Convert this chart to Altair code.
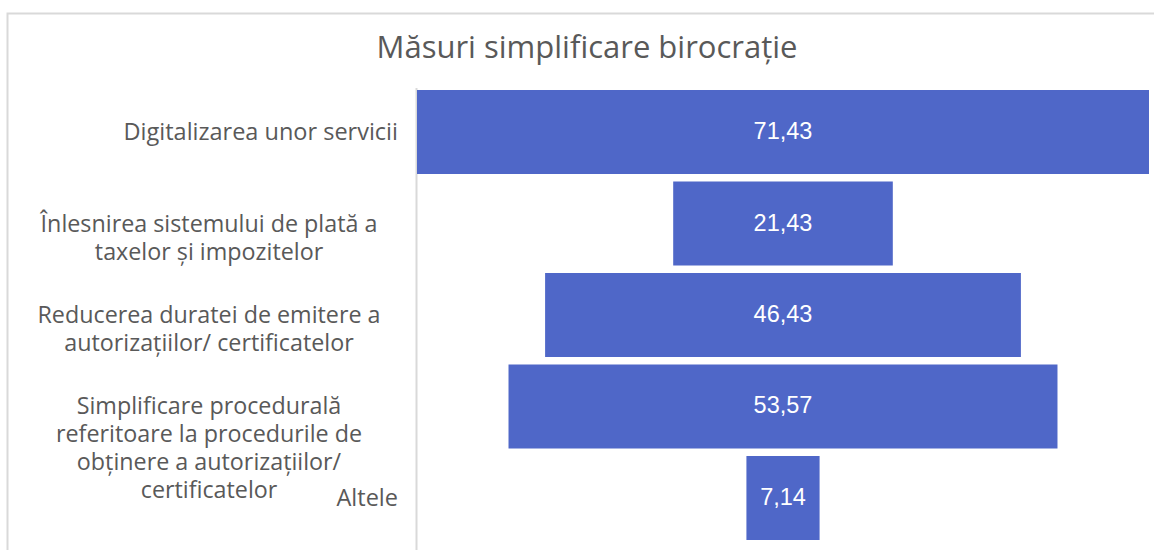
import altair as alt
import pandas as pd

# Funnel: share of respondents per simplification measure (%)
categories = [
    "Digitalizarea unor servicii",
    "Înlesnirea sistemului de plată a taxelor și impozitelor",
    "Reducerea duratei de emitere a autorizațiilor/ certificatelor",
    "Simplificare procedurală referitoare la procedurile de obținere a autorizațiilor/ certificatelor",
    "Altele",
]
values = [71.43, 21.43, 46.43, 53.57, 7.14]
label_lines = [
    ["Digitalizarea unor servicii"],
    ["Înlesnirea sistemului de plată a", "taxelor și impozitelor"],
    ["Reducerea duratei de emitere a", "autorizațiilor/ certificatelor"],
    ["Simplificare procedurală", "referitoare la procedurile de", "obținere a autorizațiilor/", "certificatelor"],
    ["Altele"],
]
title_text = "Măsuri simplificare birocrație"

df = pd.DataFrame({
    "cat": categories,
    "value": values,
    "label": ["\n".join(l) for l in label_lines],
    "nlines": [len(l) for l in label_lines],
    "vlabel": [f"{v:.2f}".replace(".", ",") for v in values],
})

W, H = 732, 454
BAR = "#4F67C8"
GRAY = "#595959"
FONT = "Open Sans"

half = max(values) / 2
xscale = alt.Scale(domain=[-half, half], nice=False, zero=False)
yscale = alt.Scale(domain=categories, paddingInner=0.082, paddingOuter=0.022)
ycat = alt.Y("cat:N", scale=yscale, axis=None, sort=categories)

base = alt.Chart(df)
one_row = base.transform_filter("datum.cat == 'Altele'")

# outer chart frame and the funnel's left axis line
frame = one_row.mark_rect(fill=None, stroke="#d9d9d9", strokeWidth=2).encode(
    x=alt.value(-409.5), x2=alt.value(770), y=alt.value(-74.5), y2=alt.value(490)
)
axis_line = one_row.mark_rule(color="#d9d9d9", strokeWidth=2).encode(
    x=alt.value(-0.5), y=alt.value(0), y2=alt.value(480)
)

title = one_row.mark_text(
    align="center", baseline="alphabetic", color=GRAY, font=FONT, fontSize=31
).encode(x=alt.value(170), y=alt.value(-30), text=alt.value(title_text))

bars = base.transform_calculate(
    lo="-datum.value / 2", hi="datum.value / 2"
).mark_bar(color=BAR).encode(
    x=alt.X("lo:Q", scale=xscale, axis=None),
    x2="hi:Q",
    y=ycat,
)

vals = base.mark_text(color="white", font="Liberation Sans", fontSize=23.5, baseline="middle").encode(
    x=alt.datum(0, scale=xscale),
    y=ycat,
    text="vlabel:N",
)

single = base.transform_filter("datum.nlines == 1").mark_text(
    align="right", baseline="alphabetic", dy=8, color=GRAY, font=FONT, fontSize=23.5, lineBreak="\n"
).encode(
    x=alt.value(-19),
    y=ycat,
    text="label:N",
)

multi = base.transform_filter("datum.nlines > 1").mark_text(
    align="center", baseline="alphabetic", dy=8, color=GRAY, font=FONT, fontSize=23.3,
    lineBreak="\n", lineHeight=28,
).encode(
    x=alt.value(-208),
    y=ycat,
    text="label:N",
)

chart = alt.layer(frame, axis_line, title, bars, vals, single, multi).properties(
    width=W,
    height=H,
    padding={"left": 417, "top": 88, "right": 5, "bottom": 8},
    autosize=alt.AutoSizeParams(type="none"),
).configure_view(stroke=None)

chart.save("out.html", embed_options={"renderer": "svg", "actions": False})
